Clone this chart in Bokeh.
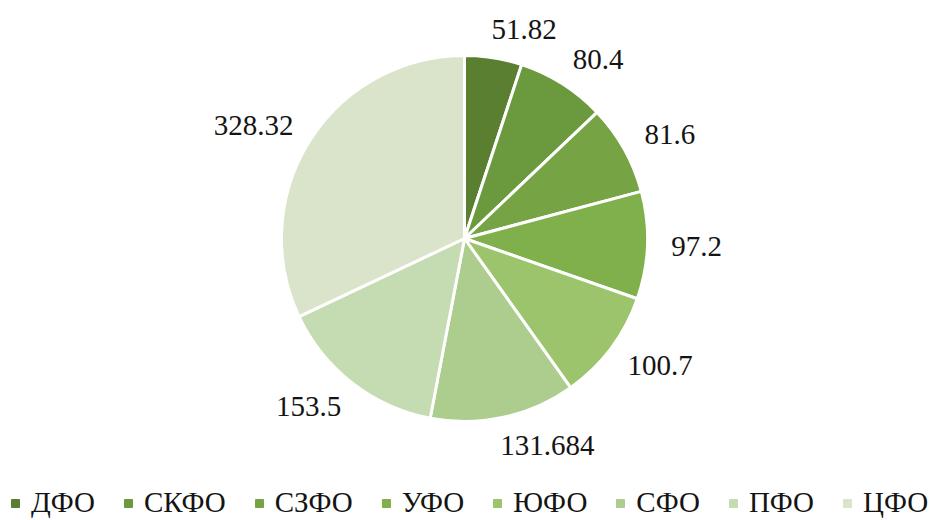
import math
from bokeh.plotting import figure
from bokeh.models import Range1d, ColumnDataSource, Legend, LegendItem
from bokeh.core.properties import value
from bokeh.embed import file_html
from bokeh.resources import INLINE

# ---- data ----
regions = ["ДФО", "СКФО", "СЗФО", "УФО", "ЮФО", "СФО", "ПФО", "ЦФО"]
values = [51.82, 80.4, 81.6, 97.2, 100.7, 131.684, 153.5, 328.32]
labels = ["51.82", "80.4", "81.6", "97.2", "100.7", "131.684", "153.5", "328.32"]
colors = ["#5b7f31", "#6b9a3e", "#76a444", "#80b04c", "#9bc46c", "#accd8d", "#c5dbb1", "#d9e4cb"]

W, H = 930, 520
CX, CY, R = 464, H - 238, 183
FS = 29
FONT = "Liberation Serif"

total = sum(values)
starts, ends, lx, ly = [], [], [], []
cum = 0.0
for v, lab in zip(values, labels):
    a0 = cum / total * 2 * math.pi
    a1 = (cum + v) / total * 2 * math.pi
    starts.append(math.pi / 2 - a0)
    ends.append(math.pi / 2 - a1)
    mid = (a0 + a1) / 2
    s, c = math.sin(mid), math.cos(mid)
    hw = sum(0.25 if ch == "." else 0.5 for ch in lab) * FS / 2
    g = 29
    sign = 1 if s >= 0 else -1
    lx.append(CX + (R + g) * s + 0.8 * hw * sign)
    ly.append(CY + (R + g) * c)
    cum += v

src = ColumnDataSource(dict(start=starts, end=ends, color=colors, region=regions,
                            lx=lx, ly=ly, label=labels))

p = figure(width=W, height=H, output_backend="svg", toolbar_location=None,
           x_range=Range1d(0, W), y_range=Range1d(0, H), min_border=0)
p.axis.visible = False
p.grid.visible = False
p.outline_line_color = None
p.background_fill_color = "white"
p.border_fill_color = "white"

p.wedge(x=CX, y=CY, radius=R, start_angle="start", end_angle="end", direction="clock",
        fill_color="color", line_color="white", line_width=3, source=src)

p.text(x="lx", y="ly", text="label", source=src, text_align="center", text_baseline="middle",
       text_font=value(FONT), text_font_size=f"{FS}px", text_color="#141414")

# legend with square markers
items = []
for i, (reg, col) in enumerate(zip(regions, colors)):
    r = p.scatter(x=[-1000], y=[-1000], marker="square", size=8, fill_color=col, line_color=col)
    items.append(LegendItem(label=reg, renderers=[r]))

legend = Legend(items=items, orientation="horizontal", location=(5, 1),
                glyph_width=20, glyph_height=20, label_standoff=6, spacing=23,
                padding=0, margin=0, border_line_color=None, background_fill_alpha=0,
                label_text_font=FONT, label_text_font_size=f"{FS}px", label_text_color="#141414")
p.add_layout(legend, "center")

open("out.html", "w").write(file_html(p, INLINE))
